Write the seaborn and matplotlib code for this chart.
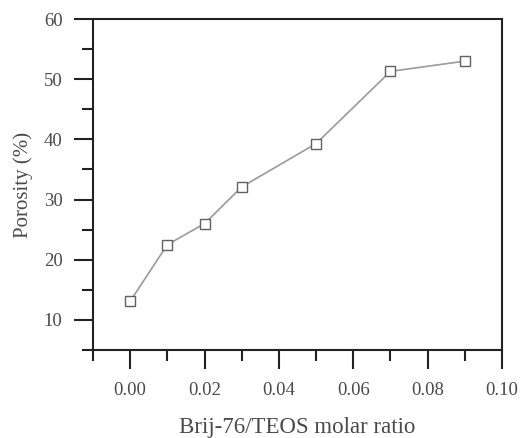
import matplotlib
matplotlib.use("Agg")
import matplotlib.pyplot as plt
import seaborn as sns
import pandas as pd
from matplotlib.ticker import MultipleLocator

ratio = [0.00, 0.01, 0.02, 0.03, 0.05, 0.07, 0.09]
porosity = [13.1, 22.5, 26.0, 32.1, 39.3, 51.3, 53.0]
df = pd.DataFrame({"ratio": ratio, "porosity": porosity})

sns.set_theme(style="ticks")
plt.rcParams['font.family'] = ['Liberation Serif', 'DejaVu Serif']

fig = plt.figure(figsize=(5.29, 4.38), dpi=100)
ax = fig.add_axes([0.1758, 0.2009, 0.949 - 0.1758, 0.9566 - 0.2009])

sns.lineplot(data=df, x="ratio", y="porosity", ax=ax, color="#9a9a9a",
             linewidth=1.2, marker="s", markersize=7.5, markerfacecolor="white",
             markeredgecolor="#606060", markeredgewidth=1.0)

ax.set_xlim(-0.01, 0.10)
ax.set_ylim(5, 60)
ax.xaxis.set_minor_locator(MultipleLocator(0.01))
ax.yaxis.set_minor_locator(MultipleLocator(5))
ax.set_xticks([0.00, 0.02, 0.04, 0.06, 0.08, 0.10])
ax.set_xticklabels(["0.00", "0.02", "0.04", "0.06", "0.08", "0.10"])
ax.set_yticks([10, 20, 30, 40, 50, 60])
ax.set_yticklabels(["10", "20", "30", "40", "50", "60"])

ax.tick_params(axis="both", which="major", direction="out", length=14, width=1.5,
               labelsize=13.5, labelcolor="#4a4a4a", color="#222222", pad=8)
ax.tick_params(axis="both", which="minor", direction="out", length=8, width=1.5,
               color="#222222")
ax.tick_params(axis="x", pad=9)
for s in ax.spines.values():
    s.set_linewidth(1.5)
    s.set_color("#222222")

ax.set_xlabel("Brij-76/TEOS molar ratio", fontsize=16.5, color="#4a4a4a", labelpad=13)
ax.set_ylabel("Porosity (%)", fontsize=15, color="#4a4a4a", labelpad=8)

fig.savefig("out.png", dpi=100)
